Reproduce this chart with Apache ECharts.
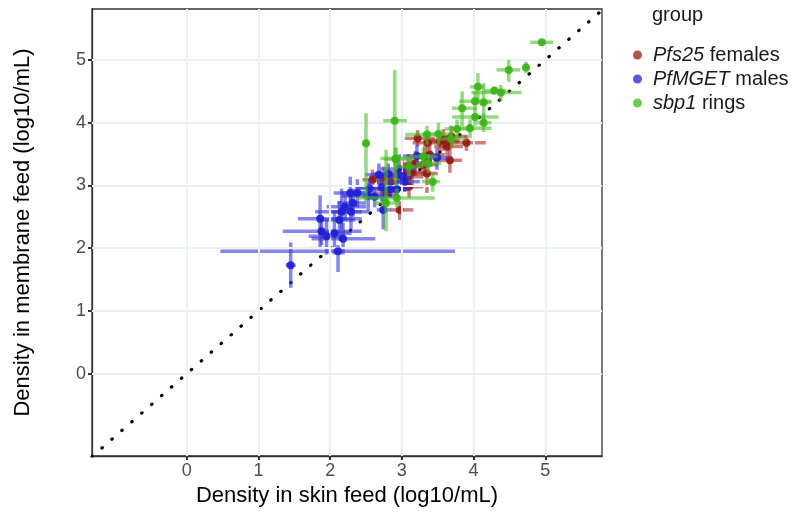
<!DOCTYPE html>
<html><head><meta charset="utf-8">
<script src="https://cdn.jsdelivr.net/npm/echarts@6/dist/echarts.min.js"></script>
<style>html,body{margin:0;padding:0;background:#fff}#c{width:795px;height:522px}</style>
</head><body><div id="c"></div>
<script>
// Each row: [x, y, xLow, xHigh, yLow, yHigh]  (log10/mL)
const groupNames = ['Pfs25 females', 'PfMGET males', 'sbp1 rings'];
const xTicks = [0, 1, 2, 3, 4, 5];
const yTicks = [0, 1, 2, 3, 4, 5];
const xRange = [-1.32, 5.79];
const yRange = [-1.31, 5.81];
const identityLine = [[-1.32, -1.32], [5.81, 5.81]];

const pfs25 = [
  [2.59,3.09,2.45,2.75,2.95,3.25],
  [2.78,2.88,2.60,2.95,2.70,3.05],
  [2.97,2.61,2.84,3.16,2.45,2.75],
  [3.00,3.21,2.80,3.20,3.00,3.40],
  [3.04,3.14,2.80,3.30,2.90,3.35],
  [3.09,3.30,2.90,3.30,3.10,3.50],
  [3.14,3.20,2.90,3.40,2.95,3.45],
  [3.19,3.35,3.00,3.40,3.15,3.55],
  [3.22,3.75,3.04,3.46,3.62,3.88],
  [3.32,3.46,3.10,3.55,3.25,3.65],
  [3.35,3.19,3.20,3.50,2.88,3.46],
  [3.30,3.33,3.10,3.50,3.15,3.50],
  [3.36,3.68,3.15,3.60,3.50,3.85],
  [3.39,3.49,3.20,3.60,3.30,3.70],
  [3.53,3.70,3.30,3.80,3.55,3.85],
  [3.58,3.72,3.40,3.80,3.55,3.90],
  [3.63,3.62,3.45,3.85,3.40,3.80],
  [3.67,3.40,3.44,3.84,3.20,3.60],
  [3.69,3.78,3.50,3.90,3.60,3.95],
  [3.90,3.68,3.62,4.17,3.55,3.80],
  [2.85,3.05,2.65,3.05,2.90,3.20],
  [3.10,2.98,2.90,3.30,2.80,3.15],
  [2.75,3.13,2.55,2.95,3.00,3.30]
];
const pfmget = [
  [1.45,1.73,1.38,1.52,1.37,2.09],
  [2.11,1.95,0.47,3.74,1.62,2.05],
  [1.86,2.47,1.55,2.44,2.00,2.84],
  [1.88,2.27,1.34,2.44,2.05,2.50],
  [1.95,2.19,1.70,2.20,1.90,2.45],
  [2.06,2.24,1.85,2.30,1.90,2.60],
  [2.13,2.45,1.90,2.35,2.15,2.75],
  [2.16,2.58,1.79,2.44,2.30,2.95],
  [2.18,2.15,1.74,2.63,1.90,2.40],
  [2.29,2.58,2.00,2.55,2.30,2.90],
  [2.32,2.72,2.10,2.50,2.50,2.95],
  [2.28,2.88,2.05,2.50,2.61,3.14],
  [2.38,2.88,2.15,2.60,2.65,3.10],
  [2.53,2.83,2.16,2.93,2.60,3.05],
  [2.62,2.82,2.45,2.80,2.65,3.00],
  [2.68,3.17,2.49,2.95,2.95,3.35],
  [2.72,2.97,2.40,3.00,2.75,3.20],
  [2.74,2.61,2.65,2.85,2.30,2.85],
  [2.81,3.18,2.60,3.00,3.00,3.35],
  [2.84,2.94,2.65,3.05,2.80,3.10],
  [2.93,2.94,2.80,3.10,2.80,3.10],
  [2.95,3.26,2.70,3.20,3.05,3.45],
  [3.04,3.06,2.85,3.25,2.90,3.20],
  [3.21,3.47,2.95,3.45,3.30,3.65],
  [3.49,3.44,3.35,3.65,3.25,3.60],
  [2.21,2.66,1.95,2.50,2.45,2.85],
  [3.00,3.15,2.85,3.15,3.00,3.30],
  [2.55,2.95,2.35,2.75,2.80,3.10]
];
const sbp1 = [
  [4.95,5.28,4.79,5.11,5.24,5.32],
  [4.73,4.88,4.68,4.78,4.79,4.97],
  [4.49,4.84,4.32,4.65,4.65,5.00],
  [4.29,4.51,4.15,4.45,4.45,4.57],
  [4.38,4.48,3.97,4.67,4.35,4.60],
  [4.06,4.57,3.95,4.15,4.34,4.79],
  [4.02,4.34,3.80,4.25,4.20,4.50],
  [4.14,4.32,4.05,4.25,3.94,4.63],
  [3.84,4.23,3.70,4.00,3.94,4.50],
  [4.02,4.09,3.70,4.35,3.95,4.25],
  [4.14,4.00,4.05,4.25,3.85,4.15],
  [3.95,3.91,3.65,4.25,3.75,4.05],
  [2.90,4.03,2.74,3.07,3.25,4.84],
  [2.50,3.67,2.45,2.55,2.74,4.15],
  [2.91,3.42,2.75,3.10,3.00,3.60],
  [3.10,3.30,2.90,3.30,3.15,3.45],
  [3.35,3.81,3.05,3.55,3.65,3.95],
  [3.51,3.82,3.30,3.70,3.65,4.00],
  [3.69,3.74,3.50,3.90,3.60,3.90],
  [3.37,3.35,3.20,3.55,3.20,3.50],
  [3.43,3.06,3.28,3.53,2.90,3.20],
  [2.93,2.80,2.37,3.46,2.65,2.95],
  [2.78,2.72,2.60,2.95,2.27,3.57],
  [3.77,3.90,3.60,3.95,3.75,4.05],
  [3.30,3.46,3.10,3.50,3.30,3.60],
  [2.92,3.43,2.70,3.10,3.25,3.60]
];

const groups = [pfs25, pfmget, sbp1];
const pointColors = ['#951810', '#1e1ed4', '#3cb21a'];
const barColors = ['#a82a24', '#3535d8', '#4cc22a'];
const legendColors = ['#ad4039', '#4747d6', '#5cc73c'];
const FONT = '"Liberation Sans", Arial, Helvetica, sans-serif';

function errRender(color) {
  return function (params, api) {
    const x = api.value(0), y = api.value(1);
    const a = api.coord([api.value(2), y]), b = api.coord([api.value(3), y]);
    const c = api.coord([x, api.value(4)]), d = api.coord([x, api.value(5)]);
    const style = { stroke: color, lineWidth: 3.5, opacity: 0.6 };
    return { type: 'group', children: [
      { type: 'line', shape: { x1: a[0], y1: a[1], x2: b[0], y2: b[1] }, style: style },
      { type: 'line', shape: { x1: c[0], y1: c[1], x2: d[0], y2: d[1] }, style: style }
    ]};
  };
}

const series = [];
series.push({
  type: 'line', name: 'grid', data: [], silent: true, z: 0,
  markLine: {
    silent: true, symbol: 'none', label: { show: false }, animation: false,
    lineStyle: { color: '#ebf0f0', width: 2, type: 'solid' },
    data: xTicks.map(v => ({ xAxis: v })).concat(yTicks.map(v => ({ yAxis: v })))
  }
});
series.push({
  type: 'line', name: 'identity', data: identityLine, showSymbol: false, silent: true, z: 1,
  lineStyle: { color: '#000', width: 3.2, type: [0.5, 12.7], cap: 'round' }
});
groups.forEach((g, i) => {
  series.push({
    type: 'custom', name: 'err' + i, data: g, renderItem: errRender(barColors[i]),
    encode: { x: 0, y: 1 }, silent: true, z: 2 + i * 2, clip: true
  });
  series.push({
    type: 'scatter', name: groupNames[i], data: g.map(r => [r[0], r[1]]),
    symbol: 'circle', symbolSize: 8, z: 3 + i * 2,
    itemStyle: { color: pointColors[i], opacity: 0.9 }
  });
});

const chart = echarts.init(document.getElementById('c'), null, { renderer: 'canvas' });
chart.setOption({
  animation: false,
  backgroundColor: '#fff',
  textStyle: { fontFamily: FONT },
  grid: { left: 92, top: 9, right: 193, bottom: 66, show: true, borderColor: '#333', borderWidth: 1.3, backgroundColor: '#fff' },
  xAxis: {
    type: 'value', min: xRange[0], max: xRange[1],
    name: 'Density in skin feed (log10/mL)', nameLocation: 'middle', nameGap: 29,
    nameTextStyle: { fontSize: 22, color: '#000', fontFamily: FONT },
    axisLine: { show: true, onZero: false, lineStyle: { color: '#333', width: 1.3 } }, splitLine: { show: false },
    axisTick: { show: true, customValues: xTicks, length: 4, lineStyle: { color: '#333', width: 2 } },
    axisLabel: { customValues: xTicks, fontSize: 18, color: '#4d4d4d', margin: 6, fontFamily: FONT }
  },
  yAxis: {
    type: 'value', min: yRange[0], max: yRange[1],
    name: 'Density in membrane feed (log10/mL)', nameLocation: 'middle', nameGap: 58,
    nameTextStyle: { fontSize: 22, color: '#000', fontFamily: FONT },
    axisLine: { show: true, onZero: false, lineStyle: { color: '#333', width: 1.3 } }, splitLine: { show: false },
    axisTick: { show: true, customValues: yTicks, length: 4, lineStyle: { color: '#333', width: 2 } },
    axisLabel: { customValues: yTicks, fontSize: 18, color: '#4d4d4d', margin: 6, fontFamily: FONT }
  },
  legend: {
    data: groupNames.map((n, i) => ({ name: n, itemStyle: { color: legendColors[i] } })),
    orient: 'vertical', left: 628, top: 40, icon: 'circle', itemWidth: 9, itemHeight: 9, itemGap: 4,
    selectedMode: false,
    textStyle: { fontSize: 20, lineHeight: 20, color: '#1a1a1a', fontFamily: FONT,
      rich: {
        s: { width: 6 },
        i: { fontStyle: 'italic', fontSize: 20, lineHeight: 20, color: '#1a1a1a', fontFamily: FONT }
      } },
    formatter: function (n) { const k = n.indexOf(' '); return '{s|}{i|' + n.slice(0, k) + '}' + n.slice(k); }
  },
  graphic: [{ type: 'text', left: 652, top: 5, style: { text: 'group', fontSize: 20, fill: '#1a1a1a', fontFamily: FONT } }],
  series: series
});
</script></body></html>
